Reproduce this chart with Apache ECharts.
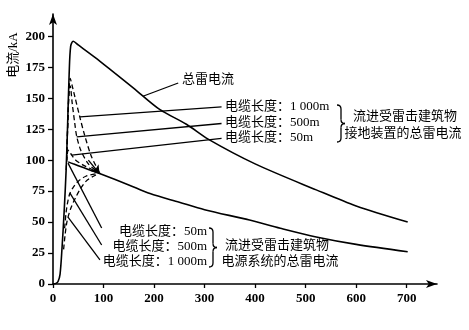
<!DOCTYPE html>
<html>
<head>
<meta charset="utf-8">
<script src="https://cdn.jsdelivr.net/npm/echarts@6/dist/echarts.min.js"></script>
<style>html,body{margin:0;padding:0;background:#fff;}#c{width:469px;height:330px;}</style>
</head>
<body>
<div id="c"></div>
<script>
// ---- data (x: time-like axis units, y: kA) ----
const xTicks = [0, 100, 200, 300, 400, 500, 600, 700];
const yTicks = [0, 25, 50, 75, 100, 125, 150, 175, 200];

const totalCurrent = [[0,0],[6,0.5],[10,2],[14,8],[18,30],[22,58],[26,92],[29,130],[32,170],[35,192],[40,196],[50,193],[83,183],[123,170],[160,158],[211,141],[264,129],[307,117],[400,97],[521,76],[600,63],[702,50]];
const sharedTail = [[30,98.6],[40,97],[60,94],[80,91],[96,88.7],[150,80],[192,73],[250,66],[300,60],[389,51.6],[450,45],[521,38],[600,32],[702,26]];
const ground1000 = [[27,100],[30,140],[32,158],[34,166],[38,160],[44,150],[53,135],[62,121],[76,103],[92,90]];
const ground500  = [[27,100],[30,138],[32,156],[34,160],[38,146],[43,130],[47,119],[55,108],[70,97],[90,90]];
const ground50   = [[26,92],[28,104],[30,108],[33,107],[37,104],[45,100],[60,96],[80,92],[95,89]];
const power500   = [[23,45],[26,58],[29,66],[33.6,73.4],[40,78],[50,83],[65,87],[85,89]];
const power1000  = [[21,28],[24,40],[27,49],[29.7,54],[36,62],[45,70],[56,78],[68,84],[85,88]];

// leader lines (data coordinates of both ends)
const totalLeader = [[178,151.6],[247.8,162.3]];
const groundLeaders = [
  [[53.4,135],[333.6,143.0]],
  [[46.9,118.8],[333.6,129.6]],
  [[37,104],[333.6,117.5]]
];
const powerLeaders = [
  [[29.7,97.6],[96.3,45.2]],
  [[33.6,73.4],[96.3,31.5]],
  [[29.7,54.0],[92.9,19.4]]
];
const arrowLeader = [[70,100],[92,89]];

// texts
const yName = '电流/kA';
const totalName = '总雷电流';
const groundLabels = ['电缆长度：1 000m', '电缆长度：500m', '电缆长度：50m'];
const groundGroup = ['流进受雷击建筑物', '接地装置的总雷电流'];
const powerLabels = ['电缆长度：50m', '电缆长度：500m', '电缆长度：1 000m'];
const powerGroup = ['流进受雷击建筑物', '电源系统的总雷电流'];

// ---- chart ----
const FONT = "'Liberation Serif', 'Noto Sans CJK SC', serif";
const chart = echarts.init(document.getElementById('c'), null, {renderer: 'canvas'});

function curve(data, dashed) {
  return {
    type: 'line', data: data, showSymbol: false, smooth: 0.3,
    silent: true, z: 3,
    lineStyle: {color: '#000', width: dashed ? 1.3 : 1.6, type: dashed ? [5, 3] : 'solid'}
  };
}
function seg(pair) { return [{coord: pair[0]}, {coord: pair[1]}]; }

const leaders = [seg(totalLeader)].concat(groundLeaders.map(seg), powerLeaders.map(seg));

function txt(x, y, s, align) {
  return {type: 'text', x: x, y: y, silent: true,
    style: {text: s, fill: '#000', font: "13px " + FONT, align: align || 'left', verticalAlign: 'middle'}};
}
function brace(x, y, h) {
  const m = h / 2;
  const st = {stroke: '#000', lineWidth: 1.3, fill: null};
  const q = (x1, y1, cx, cy, x2, y2) => ({type: 'bezierCurve', silent: true,
    shape: {x1: x1, y1: y1, cpx1: cx, cpy1: cy, x2: x2, y2: y2}, style: st});
  const l = (x1, y1, x2, y2) => ({type: 'line', silent: true,
    shape: {x1: x1, y1: y1, x2: x2, y2: y2}, style: st});
  return {type: 'group', x: x, y: y, silent: true, children: [
    q(0, 0, 4, 0, 4, 4), l(4, 4, 4, m - 4), q(4, m - 4, 4, m, 8, m),
    q(8, m, 4, m, 4, m + 4), l(4, m + 4, 4, h - 4), q(4, h - 4, 4, h, 0, h)
  ]};
}

chart.setOption({
  animation: false,
  grid: {left: 53, right: 32, top: 14, bottom: 46},
  xAxis: {
    type: 'value', min: 0, max: 760,
    axisLine: {show: true, onZero: false, symbol: ['none', 'arrow'], symbolSize: [6, 11], lineStyle: {color: '#000', width: 1.6}},
    axisTick: {show: true, length: 4, customValues: xTicks, lineStyle: {color: '#000', width: 1.3}},
    axisLabel: {customValues: xTicks, color: '#000', fontFamily: FONT, fontSize: 13, fontWeight: 'bold', margin: 8},
    splitLine: {show: false}
  },
  yAxis: {
    type: 'value', min: 0, max: 218,
    axisLine: {show: true, onZero: false, symbol: ['none', 'arrow'], symbolSize: [6, 11], lineStyle: {color: '#000', width: 1.6}},
    axisTick: {show: true, length: 5, customValues: yTicks, lineStyle: {color: '#000', width: 1.3}},
    axisLabel: {customValues: yTicks, color: '#000', fontFamily: FONT, fontSize: 13, fontWeight: 'bold', margin: 8},
    splitLine: {show: false}
  },
  series: [
    curve(totalCurrent, false),
    curve(sharedTail, false),
    curve(ground1000, true),
    curve(ground500, true),
    curve(ground50, true),
    curve(power500, true),
    curve(power1000, true),
    {
      type: 'line', data: [], silent: true,
      markLine: {silent: true, symbol: 'none', animation: false,
        label: {show: false}, lineStyle: {color: '#000', width: 1.3, type: 'solid'},
        emphasis: {disabled: true}, data: leaders}
    },
    {
      type: 'line', data: [], silent: true,
      markLine: {silent: true, symbol: ['none', 'arrow'], symbolSize: 8, animation: false,
        label: {show: false}, lineStyle: {color: '#000', width: 1.3, type: 'solid'},
        emphasis: {disabled: true}, data: [seg(arrowLeader)]}
    }
  ],
  graphic: [
    {type: 'text', x: 14, y: 55, rotation: Math.PI / 2, silent: true,
      style: {text: yName, fill: '#000', font: "13px " + FONT, align: 'center', verticalAlign: 'middle'}},
    txt(182, 80, totalName),
    txt(225, 107, groundLabels[0]),
    txt(225, 123, groundLabels[1]),
    txt(225, 138, groundLabels[2]),
    brace(337, 105, 37),
    txt(405, 117, groundGroup[0], 'center'),
    txt(403, 134, groundGroup[1], 'center'),
    txt(207, 232, powerLabels[0], 'right'),
    txt(207, 247, powerLabels[1], 'right'),
    txt(207, 262, powerLabels[2], 'right'),
    brace(209, 228, 39),
    txt(277, 246, powerGroup[0], 'center'),
    txt(280, 262, powerGroup[1], 'center')
  ]
});
</script>
</body>
</html>
